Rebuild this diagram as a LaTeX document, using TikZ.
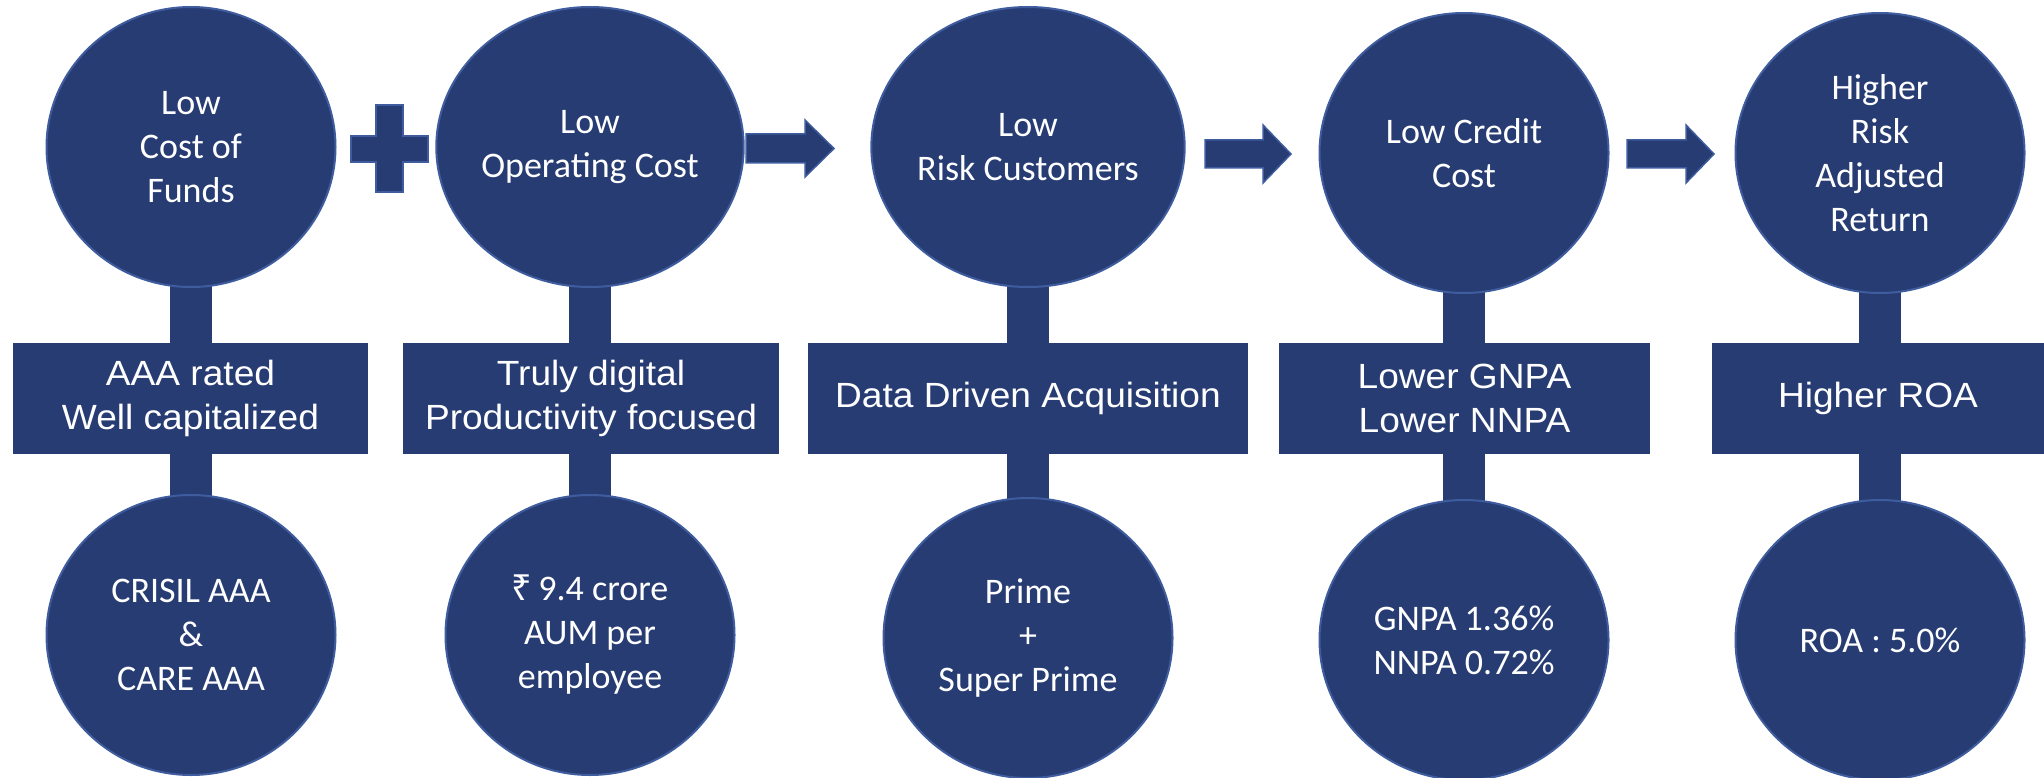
\documentclass[tikz,border=0pt]{standalone}
\usepackage{fontspec}
\setmainfont{Liberation Sans}[FakeStretch=1.06]
\newfontfamily\bubblefont{Carlito}
\newfontfamily\rupeefont{Noto Sans}
\usepackage{tikz}
\usetikzlibrary{shapes.geometric,backgrounds}
\definecolor{deepblue}{RGB}{39,60,115}
\definecolor{rimblue}{RGB}{62,92,158}

\begin{document}
\begin{tikzpicture}[x=1pt,y=-1pt,
        bubble/.style={ellipse, fill=deepblue, draw=rimblue, line width=2pt,
            minimum width=289pt, minimum height=280pt, inner sep=0pt,
            text=white, align=center, font=\bubblefont\fontsize{36}{44}\selectfont},
        panel/.style={rectangle, fill=deepblue, minimum height=111pt, inner sep=0pt,
            text=white, align=center, font=\fontsize{35}{44}\selectfont},
        stem/.style={draw=deepblue, line width=42pt},
        blockarrow/.style={fill=deepblue, draw=rimblue, line width=1.5pt}]
        \useasboundingbox (0,0) rectangle (2044,778);

        % top row
        \node[bubble] (t1) at (191,147) {Low\\Cost of\\Funds};
        \node[bubble] (t2) at (590,147) {Low\\Operating Cost};
        \node[bubble] (t3) at (1028,147) {Low\\Risk Customers};
        \node[bubble] (t4) at (1464,153) {Low Credit\\Cost};
        \node[bubble] (t5) at (1880,153) {Higher\\Risk\\Adjusted\\Return};

        % middle row
        \node[panel, minimum width=355pt] (r1) at (190.5,398.5) {AAA rated\\Well capitalized};
        \node[panel, minimum width=376pt] (r2) at (591,398.5) {Truly digital\\Productivity focused};
        \node[panel, minimum width=440pt] (r3) at (1028,398.5) {Data Driven Acquisition};
        \node[panel, minimum width=371pt] (r4) at (1464.5,398.5) {Lower GNPA\\Lower NNPA};
        \node[panel, minimum width=332pt] (r5) at (1878,398.5) {Higher ROA};

        % bottom row
        \node[bubble] (b1) at (191,635) {CRISIL AAA\\\&\\CARE AAA};
        \node[bubble] (b2) at (590,635) {{\rupeefont ₹}\,9.4 crore\\AUM per\\employee};
        \node[bubble] (b3) at (1028,638) {Prime\\+\\Super Prime};
        \node[bubble] (b4) at (1464,640) {GNPA 1.36\%\\NNPA 0.72\%};
        \node[bubble] (b5) at (1880,640) {ROA : 5.0\%};

        % stems
        \begin{scope}[on background layer]
            \foreach \i in {1,...,5}
                \draw[stem] (t\i.center) -- (b\i.center);
        \end{scope}

        % plus sign
        \filldraw[blockarrow] (376,105) -- (403,105) -- (403,136) -- (428,136) -- (428,162)
            -- (403,162) -- (403,192) -- (376,192) -- (376,162) -- (351,162) -- (351,136)
            -- (376,136) -- cycle;

        % arrows
        \filldraw[blockarrow] (746,134) -- (805,134) -- (805,120) -- (834,148.5)
            -- (805,177) -- (805,163) -- (746,163) -- cycle;
        \filldraw[blockarrow] (1205,140) -- (1263,140) -- (1263,125) -- (1291,154)
            -- (1263,183) -- (1263,168) -- (1205,168) -- cycle;
        \filldraw[blockarrow] (1627,140) -- (1686,140) -- (1686,125) -- (1714,154)
            -- (1686,183) -- (1686,168) -- (1627,168) -- cycle;
    \end{tikzpicture}
\end{document}
